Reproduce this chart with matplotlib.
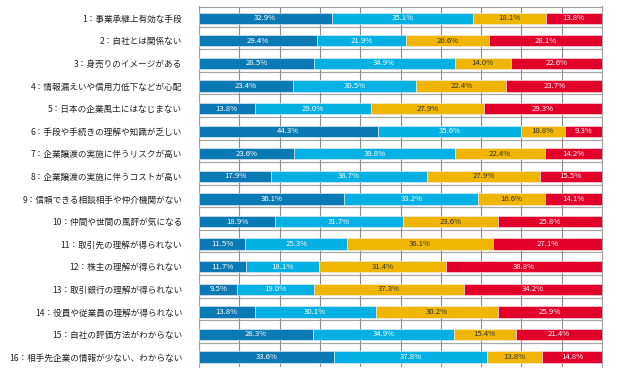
import numpy as np
from matplotlib import pyplot as plt

plt.rcParams['font.family'] = ['Noto Sans CJK JP', 'DejaVu Sans']

labels = [
    "1：事業承継上有効な手段",
    "2：自社とは関係ない",
    "3：身売りのイメージがある",
    "4：情報漏えいや信用力低下などが心配",
    "5：日本の企業風土にはなじまない",
    "6：手段や手続きの理解や知識が乏しい",
    "7：企業譲渡の実施に伴うリスクが高い",
    "8：企業譲渡の実施に伴うコストが高い",
    "9：信頼できる相談相手や仲介機関がない",
    "10：仲間や世間の風評が気になる",
    "11：取引先の理解が得られない",
    "12：株主の理解が得られない",
    "13：取引銀行の理解が得られない",
    "14：役員や従業員の理解が得られない",
    "15：自社の評価方法がわからない",
    "16：相手先企業の情報が少ない、わからない",
]

s1 = [32.9, 29.4, 28.5, 23.4, 13.8, 44.3, 23.6, 17.9, 36.1, 18.9, 11.5, 11.7, 9.5, 13.8, 28.3, 33.6]
s2 = [35.1, 21.9, 34.9, 30.5, 29.0, 35.6, 39.8, 38.7, 33.2, 31.7, 25.3, 18.1, 19.0, 30.1, 34.9, 37.8]
s3 = [18.1, 20.6, 14.0, 22.4, 27.9, 10.8, 22.4, 27.9, 16.6, 23.6, 36.1, 31.4, 37.3, 30.2, 15.4, 13.8]
s4 = [13.8, 28.1, 22.6, 23.7, 29.3, 9.3, 14.2, 15.5, 14.1, 25.8, 27.1, 38.8, 34.2, 25.9, 21.4, 14.8]

colors = ["#0b79b3", "#02b0e3", "#f0b500", "#e2002a"]
text_colors = ["white", "white", "#333333", "white"]

fig = plt.figure(figsize=(6.2, 3.8), dpi=100)
ax = fig.add_axes([199 / 620, 1 - 367 / 380, 403 / 620, (367 - 6.5) / 380])

y = np.arange(len(labels))
left = np.zeros(len(labels))
for vals, c, tc in zip([s1, s2, s3, s4], colors, text_colors):
    vals = np.array(vals)
    ax.barh(y, vals, left=left, height=0.5, color=c, edgecolor="#f0f0f0",
            linewidth=0.4, zorder=3)
    for yi, (l, v) in enumerate(zip(left, vals)):
        ax.text(l + v / 2, yi, f"{v:.1f}%", ha="center", va="center",
                fontsize=5.6, color=tc, zorder=4)
    left += vals

ax.set_xlim(0, 100)
ax.set_ylim(15.44, -0.52)
ax.set_xticks(np.arange(0, 101, 10))
ax.tick_params(axis="x", length=0, labelbottom=False)
ax.xaxis.grid(True, color="#8c8c8c", linewidth=0.8, zorder=0)
ax.hlines(y[:-1] + 0.37, 0, 100, color="#a8a8a8", linewidth=0.9, zorder=1)

ax.set_yticks(y)
ax.set_yticklabels(labels, fontsize=6.2, color="#222222")
ax.tick_params(axis="y", length=0, pad=12)

for side in ["left", "top", "right"]:
    ax.spines[side].set_color("#a0a0a0")
    ax.spines[side].set_linewidth(0.8)
ax.spines["bottom"].set_visible(False)

plt.savefig("out.png", dpi=100)
